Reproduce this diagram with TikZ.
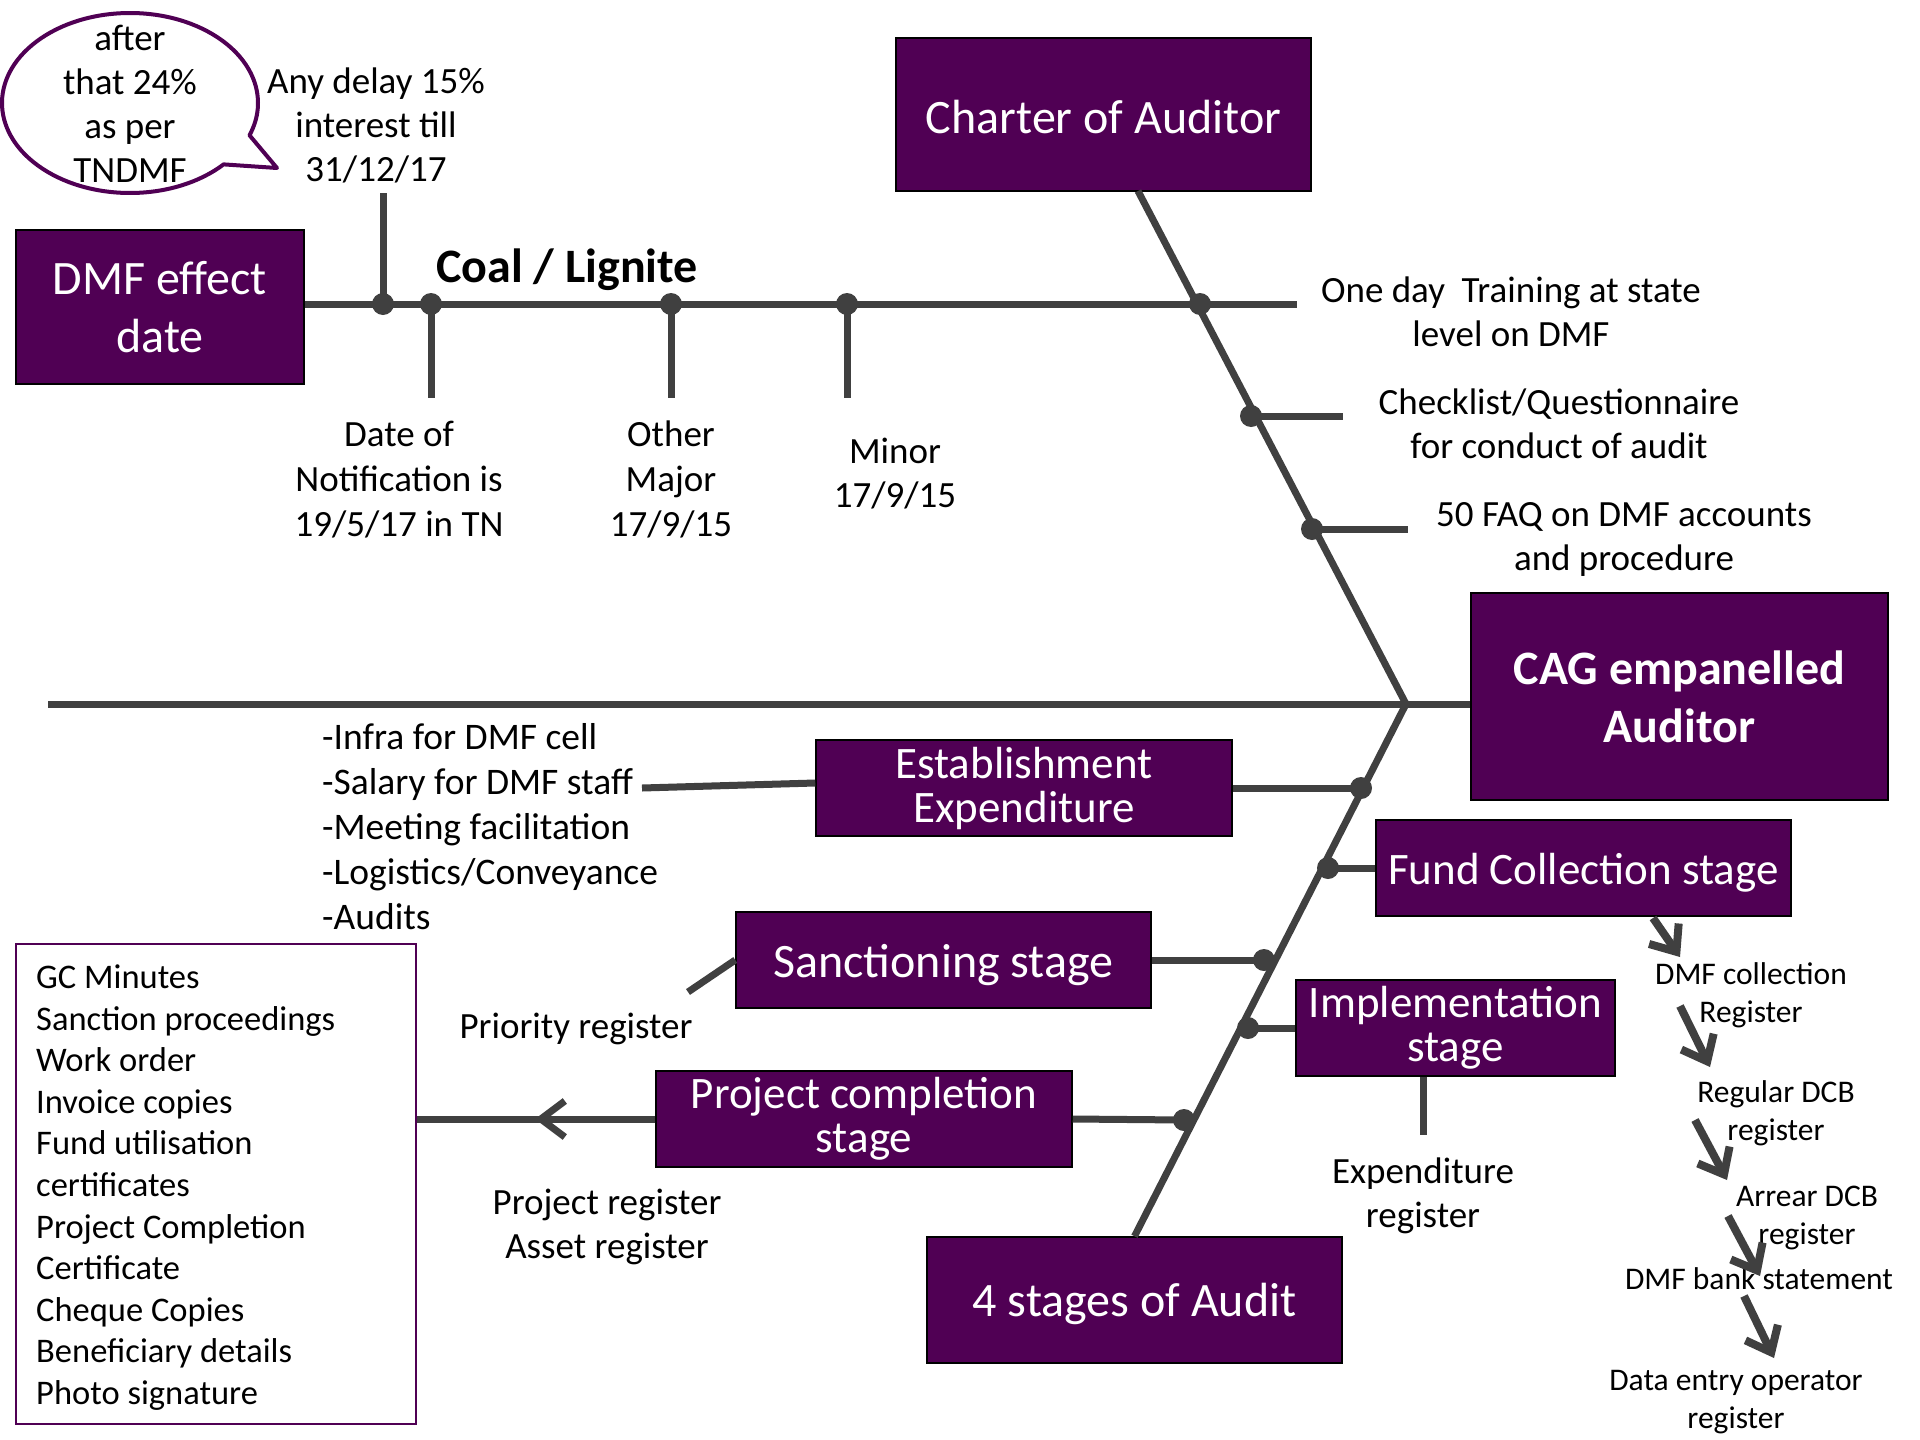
\documentclass[tikz,border=0pt]{standalone}
\usepackage{fontspec}
\setmainfont{Carlito}
\usetikzlibrary{arrows.meta}

\definecolor{dmfpurple}{RGB}{80,0,84}
\definecolor{bonegray}{RGB}{64,64,64}

\newcommand\fbig{\fontsize{48}{58}\selectfont}
\newcommand\fstage{\fontsize{45}{44}\selectfont}
\newcommand\fnorm{\fontsize{37}{44}\selectfont}
\newcommand\fdoc{\fontsize{34.5}{41.6}\selectfont}
\newcommand\fchain{\fontsize{31.5}{38}\selectfont}
% lower a one-line caption inside its box without changing the box size
\newcommand\lowerby[2]{\raisebox{-#1}[\height][\depth]{#2}}

\tikzset{
  bigbox/.style={draw=black, line width=1.5pt, fill=dmfpurple, text=white,
    font=\fbig, align=center, inner sep=0pt},
  stagebox/.style={bigbox, font=\fstage},
  lbl/.style={font=\fnorm, align=center, inner sep=0pt, text=black},
  chainlbl/.style={font=\fchain, align=center, inner sep=0pt, text=black},
  bone/.style={draw=bonegray, line width=7pt},
  fishdot/.style={circle, fill=bonegray, inner sep=0pt, minimum size=22pt},
  chainarrow/.style={draw=bonegray, line width=8pt,
    -{Straight Barb[length=22pt, width=36pt]}},
  bubble/.style={draw=dmfpurple, line width=4pt, line join=round},
}

\begin{document}
\begin{tikzpicture}[x=1pt, y=-1pt]
\fill[white] (0,0) rectangle (1920,1440);
\useasboundingbox (0,0) rectangle (1920,1440);

% ---------- main boxes ----------
\node[bigbox, minimum width=288pt, minimum height=154pt] (dmf) at (160,307) {DMF effect\\date};
\node[bigbox, minimum width=415pt, minimum height=153pt] (charter) at (1103.5,114.5) {\lowerby{2.5pt}{Charter of Auditor}};
\node[bigbox, minimum width=417pt, minimum height=207pt, font=\fbig\bfseries] (cag) at (1679.5,696.5) {CAG empanelled\\Auditor};
\node[bigbox, minimum width=415pt, minimum height=126pt] (four) at (1134.5,1300) {\lowerby{3.5pt}{4 stages of Audit}};

% ---------- stage boxes ----------
\node[stagebox, minimum width=416pt, minimum height=96pt] (est) at (1024,788) {Establishment\\Expenditure};
\node[stagebox, minimum width=415pt, minimum height=96pt] (fund) at (1583.5,868) {\lowerby{5pt}{Fund Collection stage}};
\node[stagebox, font=\fbig, minimum width=415pt, minimum height=96pt] (sanc) at (943.5,960) {\lowerby{5pt}{Sanctioning stage}};
\node[stagebox, minimum width=319pt, minimum height=96pt] (impl) at (1455.5,1028) {Implementation\\stage};
\node[stagebox, minimum width=416pt, minimum height=96pt] (proj) at (864,1119) {Project completion\\stage};

% ---------- document list ----------
\node[draw=dmfpurple, line width=2pt, minimum width=400pt, minimum height=480pt, inner sep=0pt] (docs) at (216,1184) {};
\node[font=\fdoc, align=left, anchor=west, inner sep=0pt] (doclist) at (36,1187.5)
  {GC Minutes\\Sanction proceedings\\Work order\\Invoice copies\\Fund utilisation\\certificates\\Project Completion\\Certificate\\Cheque Copies\\Beneficiary details\\Photo signature};

% ---------- skeleton coordinates ----------
\coordinate (topend) at (1297,304);
\coordinate (cbot) at (1138,191);
\coordinate (apex) at (1406,704);
\coordinate (tail) at (48,704);

% ---------- bones ----------
\draw[bone] (dmf.east |- topend) -- (topend);
\draw[bone] (cbot) -- (apex) -- (four.north);
\draw[bone] (tail) -- (apex -| cag.west);

% dots on the upper spine
\node[fishdot] (t1) at (383,304) {};
\node[fishdot] (t2) at (431,304) {};
\node[fishdot] (t3) at (671,304) {};
\node[fishdot] (t4) at (847,304) {};
\node[fishdot] (t5) at (1200,304) {};
\coordinate (t1end) at (383,193);
\coordinate (t2end) at (431,398);
\coordinate (t3end) at (671,398);
\coordinate (t4end) at (847,398);
\draw[bone] (t1.center) -- (t1end);
\draw[bone] (t2.center) -- (t2end);
\draw[bone] (t3.center) -- (t3end);
\draw[bone] (t4.center) -- (t4end);

% branches on the upper diagonal
\node[fishdot] (u1) at (1251,416) {};
\node[fishdot] (u2) at (1312,529) {};
\coordinate (u1end) at (1343,416);
\coordinate (u2end) at (1408,529);
\draw[bone] (u1.center) -- (u1end);
\draw[bone] (u2.center) -- (u2end);

% branches on the lower diagonal
\node[fishdot] (l1) at (1361,788) {};
\node[fishdot] (l2) at (1328,868) {};
\node[fishdot] (l3) at (1264,960) {};
\node[fishdot] (l4) at (1248,1028) {};
\node[fishdot] (l5) at (1184,1120) {};
\draw[bone] (est.east) -- (l1.center);
\draw[bone] (fund.west) -- (l2.center);
\draw[bone] (sanc.east) -- (l3.center);
\draw[bone] (impl.west) -- (l4.center);
\draw[bone] (proj.east) -- (l5.center);

% side connectors of the stages
\coordinate (infraend) at (642,788);
\coordinate (prioend) at (688,992);
\coordinate (implfoot) at (1423,1135);
\coordinate (projtip) at (535,1119);
\draw[bone] ([yshift=5pt]est.west) -- (infraend);
\draw[bone] (sanc.west) -- (prioend);
\draw[bone] (implfoot |- impl.south) -- (implfoot);
\draw[bone] (proj.west) -- (docs.east |- proj.west);
\draw[bone, -{Straight Barb[length=24pt, width=36pt]}] (proj.west) -- (projtip);

% ---------- labels ----------
\node[lbl] (bubbletxt) at (130,104) {after\\that 24\%\\as per\\TNDMF};
\draw[bubble] (130,103) ++(43:128 and 90)
  arc[start angle=43, end angle=381, x radius=128, y radius=90]
  -- (277,168) -- cycle;
\node[lbl] (delay) at (376,125) {Any delay 15\%\\interest till\\31/12/17};
\node[inner sep=0pt, font=\bfseries\fontsize{48}{58}\selectfont] (coal) at (567,269.5) {Coal / Lignite};
\node[lbl, font=\fontsize{37}{45}\selectfont] (dnote) at (399,479.5) {Date of\\Notification is\\19/5/17 in TN};
\node[lbl, font=\fontsize{37}{45}\selectfont] (other) at (671,479.5) {Other\\Major\\17/9/15};
\node[lbl] (minor) at (895,473.5) {Minor\\17/9/15};
\node[lbl] (train) at (1511,311.5) {One day\ \ Training at state\\level on DMF};
\node[lbl] (check) at (1559,424) {Checklist/Questionnaire\\for conduct of audit};
\node[lbl] (faq) at (1624,539.5) {50 FAQ on DMF accounts\\and procedure};
\node[lbl, font=\fontsize{37.5}{45}\selectfont, align=left, anchor=west] (infra) at (322,826.5)
  {-Infra for DMF cell\\-Salary for DMF staff\\-Meeting facilitation\\-Logistics/Conveyance\\-Audits};
\node[lbl] (prio) at (576,1028.5) {Priority register};
\node[lbl] (projreg) at (607,1227) {Project register\\Asset register};
\node[lbl] (expreg) at (1423,1195.5) {Expenditure\\register};

% ---------- fund collection chain ----------
\node[chainlbl] (dmfcol) at (1751,995) {DMF collection\\Register};
\node[chainlbl] (regdcb) at (1776,1113.5) {Regular DCB\\register};
\node[chainlbl] (arrdcb) at (1807,1218) {Arrear DCB\\register};
\node[chainlbl] (bank) at (1759,1279) {DMF bank statement};
\node[chainlbl] (dataop) at (1736,1402.5) {Data entry operator\\register};

\coordinate (c1s) at (1653,918);  \coordinate (c1e) at (1680,957);
\coordinate (c2s) at (1680,1006); \coordinate (c2e) at (1710,1067);
\coordinate (c3s) at (1695,1120); \coordinate (c3e) at (1727,1180);
\coordinate (c4s) at (1728,1216); \coordinate (c4e) at (1760,1276);
\coordinate (c5s) at (1744,1296); \coordinate (c5e) at (1774,1358);
\draw[chainarrow] (c1s) -- (c1e);
\draw[chainarrow] (c2s) -- (c2e);
\draw[chainarrow] (c3s) -- (c3e);
\draw[chainarrow] (c4s) -- (c4e);
\draw[chainarrow] (c5s) -- (c5e);
\end{tikzpicture}
\end{document}
